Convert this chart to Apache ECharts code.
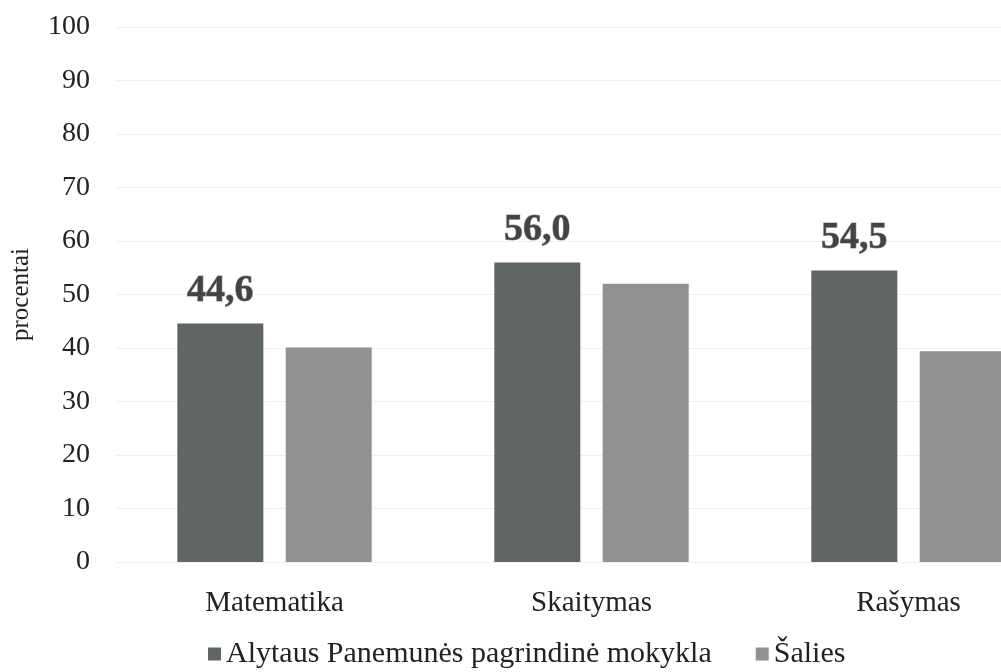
<!DOCTYPE html>
<html>
<head>
<meta charset="utf-8">
<script src="https://cdn.jsdelivr.net/npm/echarts@6/dist/echarts.min.js"></script>
<style>
  html, body { margin: 0; padding: 0; background: #fff; }
  #myChart { width: 1001px; height: 672px; }
</style>
</head>
<body>
<div id="myChart"></div>
<script>
// duomenys
var categories = ['Matematika', 'Skaitymas', 'Rašymas'];
var seriesNames = ['Alytaus Panemunės pagrindinė mokykla', 'Šalies'];
var schoolValues = [44.6, 56.0, 54.5];
var countryValues = [40.1, 52.0, 39.4];
var yTicks = [0, 10, 20, 30, 40, 50, 60, 70, 80, 90, 100];

var font = '"Liberation Serif", "DejaVu Serif", serif';

var option = {
  animation: false,
  backgroundColor: '#fff',
  grid: {
    left: 116,
    width: 951, // paskutinė kategorija nukirsta dešinėje
    top: 27,
    bottom: 110,
    outerBoundsMode: 'none'
  },
  legend: {
    left: 203,
    top: 634,
    icon: 'rect',
    itemWidth: 13, // kvadrato dydis
    itemHeight: 13,
    itemGap: 44,
    textStyle: {
      fontFamily: font,
      fontSize: 30,
      color: '#222'
    },
    data: seriesNames
  },
  xAxis: {
    type: 'category',
    data: categories,
    axisLine: { show: false },
    axisTick: { show: false },
    axisLabel: {
      margin: 27,
      fontFamily: font,
      fontSize: 29,
      color: '#222'
    }
  },
  yAxis: {
    type: 'value',
    min: yTicks[0],
    max: yTicks[yTicks.length - 1],
    interval: 10,
    name: 'procentai',
    nameLocation: 'middle',
    nameGap: 82,
    nameTextStyle: {
      fontFamily: font,
      fontSize: 25,
      color: '#222'
    },
    axisLine: { show: false },
    axisTick: { show: false },
    axisLabel: {
      margin: 26,
      fontFamily: font,
      fontSize: 28,
      color: '#222'
    },
    splitLine: {
      lineStyle: { color: '#f0f0f0', width: 1 }
    }
  },
  series: [
    {
      name: seriesNames[0],
      type: 'bar',
      barWidth: 86,
      barGap: '26%',
      data: schoolValues,
      itemStyle: { color: '#5f6663' },
      label: {
        show: true,
        position: 'top',
        distance: 13,
        fontFamily: font,
        fontWeight: 'bold',
        fontSize: 38,
        color: '#444',
        textBorderColor: '#999',
        textBorderWidth: 1,
        formatter: function (p) {
          return p.value.toFixed(1).replace('.', ',');
        }
      }
    },
    {
      name: seriesNames[1],
      type: 'bar',
      barWidth: 86,
      data: countryValues,
      itemStyle: { color: '#8f9290' }
    }
  ]
};

var chart = echarts.init(document.getElementById('myChart'));
chart.setOption(option);
</script>
</body>
</html>
